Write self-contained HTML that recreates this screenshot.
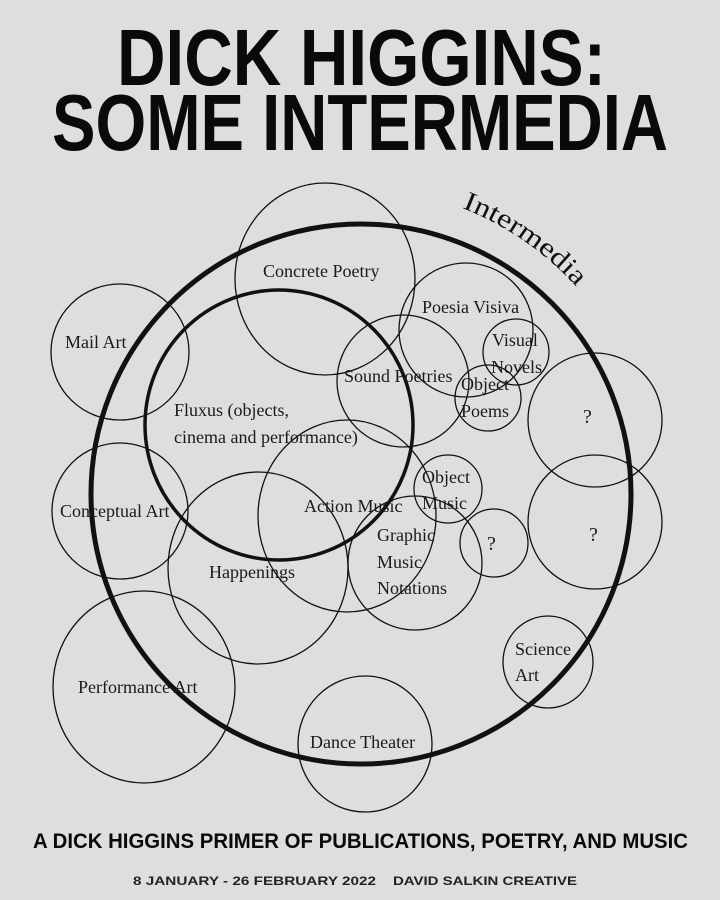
<!DOCTYPE html>
<html><head><meta charset="utf-8"><style>
html,body{margin:0;padding:0;background:#dedede;}
svg{display:block}
</style></head><body>
<svg width="720" height="900" viewBox="0 0 720 900" xmlns="http://www.w3.org/2000/svg">
<rect width="720" height="900" fill="#dedede"/>
<g font-family="'Liberation Sans Narrow','Liberation Sans',sans-serif" font-weight="bold" fill="#0a0a0a">
<text x="117" y="85" font-size="80" textLength="489" lengthAdjust="spacingAndGlyphs">DICK HIGGINS:</text>
<text x="52" y="150" font-size="80" textLength="616" lengthAdjust="spacingAndGlyphs">SOME INTERMEDIA</text>
<text x="33" y="848" font-size="21" textLength="655" lengthAdjust="spacingAndGlyphs">A DICK HIGGINS PRIMER OF PUBLICATIONS, POETRY, AND MUSIC</text>
</g>
<g font-family="'Liberation Sans',sans-serif" font-weight="bold" fill="#222" font-size="12">
<text x="133" y="885" textLength="243" lengthAdjust="spacingAndGlyphs">8 JANUARY - 26 FEBRUARY 2022</text>
<text x="393" y="885" textLength="184" lengthAdjust="spacingAndGlyphs">DAVID SALKIN CREATIVE</text>
</g>
<g fill="none" stroke="#111">
<circle cx="361" cy="494" r="270" stroke-width="5"/>
<ellipse cx="279" cy="425" rx="134" ry="135" stroke-width="3.5"/>
<g stroke-width="1.3">
<ellipse cx="325" cy="279" rx="90" ry="96"/>
<ellipse cx="120" cy="352" rx="69" ry="68"/>
<circle cx="466" cy="330" r="67"/>
<circle cx="403" cy="381" r="66"/>
<circle cx="516" cy="352" r="33"/>
<circle cx="488" cy="398" r="33"/>
<circle cx="595" cy="420" r="67"/>
<circle cx="595" cy="522" r="67"/>
<circle cx="448" cy="489" r="34"/>
<circle cx="494" cy="543" r="34"/>
<ellipse cx="347" cy="516" rx="89" ry="96"/>
<circle cx="415" cy="563" r="67"/>
<circle cx="120" cy="511" r="68"/>
<ellipse cx="258" cy="568" rx="90" ry="96"/>
<ellipse cx="144" cy="687" rx="91" ry="96"/>
<ellipse cx="365" cy="744" rx="67" ry="68"/>
<ellipse cx="548" cy="662" rx="45" ry="46"/>
</g>
</g>
<defs><path id="arc" d="M462,208 A300,300 0 0 1 620,350"/></defs>
<text font-family="'Liberation Serif',serif" font-size="27" fill="#111"><textPath href="#arc" textLength="140" lengthAdjust="spacingAndGlyphs">Intermedia</textPath></text>
<g font-family="'Liberation Serif',serif" font-size="18" fill="#1a1a1a">
<text x="263" y="277">Concrete Poetry</text>
<text x="65" y="348">Mail Art</text>
<text x="422" y="313">Poesia Visiva</text>
<text x="492" y="346">Visual</text>
<text x="491" y="373">Novels</text>
<text x="344" y="382">Sound Poetries</text>
<text x="461" y="390">Object</text>
<text x="461" y="417">Poems</text>
<text x="174" y="416">Fluxus (objects,</text>
<text x="174" y="443">cinema and performance)</text>
<text x="583" y="423" font-size="20">?</text>
<text x="422" y="483">Object</text>
<text x="422" y="509">Music</text>
<text x="304" y="512">Action Music</text>
<text x="60" y="517">Conceptual Art</text>
<text x="487" y="550" font-size="20">?</text>
<text x="589" y="541" font-size="20">?</text>
<text x="377" y="541">Graphic</text>
<text x="377" y="568">Music</text>
<text x="377" y="594">Notations</text>
<text x="209" y="578">Happenings</text>
<text x="515" y="655">Science</text>
<text x="515" y="681">Art</text>
<text x="78" y="693">Performance Art</text>
<text x="310" y="748">Dance Theater</text>
</g>
</svg>
</body></html>
